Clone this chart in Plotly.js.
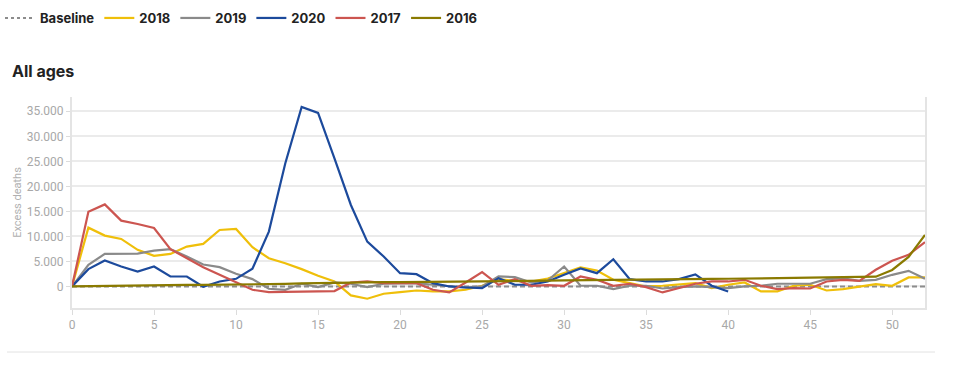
<!DOCTYPE html>
<html>
<head>
<meta charset="utf-8">
<script src="https://cdn.plot.ly/plotly-3.0.1.min.js"></script>
<style>
html,body{margin:0;padding:0;background:#fff;}
#chart{width:953px;height:380px;}
</style>
</head>
<body>
<div id="chart"></div>
<script>
// Week numbers
const weeks = [];
for (let w = 0; w <= 52; w++) weeks.push(w);

// Excess deaths per week
const baseline = weeks.map(() => 0);

const y2018 = [0, 11750, 10160, 9500, 7310, 6120, 6510, 7970, 8510, 11290, 11490,
  7830, 5650, 4650, 3460, 2130, 1000, -1790, -2450, -1450, -1120,
  -800, -990, -990, -660, 140, 1470, 1130, 1000, 1600, 2660,
  3790, 3190, 1330, 670, 0, 140, 470, 670, -330, 340,
  800, -990, -990, 140, 340, -800, -530, 0, 470, 140,
  1800, 1800];

const y2019 = [0, 4320, 6510, 6510, 6580, 7170, 7450, 5980, 4380, 3860, 2530,
  1470, -460, -660, 540, -130, 800, 540, -130, 540, 670,
  670, 340, 0, -200, 0, 2000, 1870, 800, 1200, 3990,
  140, 140, -530, 140, 140, -400, -130, 0, -130, -330,
  0, 140, 540, 540, 540, 1470, 1600, 1130, 1330, 2330,
  3130, 1530];

const y2020 = [0, 3460, 5180, 3980, 2990, 3980, 1990, 1990, -60, 1000, 1530,
  3530, 10960, 24580, 35860, 34660, 25580, 16280, 8960, 5980, 2660,
  2460, 670, 0, -200, -330, 1670, 340, 340, 1000, 2330,
  3590, 2660, 5450, 1470, 1000, 1000, 1470, 2400, 140, -990];

const y2017 = [0, 14940, 16400, 13150, 12490, 11690, 7450, 5720, 3860, 2330, 800,
  -660, -1120, -1050, -1120, -990, -920, 800, 1000, 670, 670,
  670, -660, -1190, 800, 2870, 340, 1470, 140, 280, 140,
  2000, 1330, 140, 540, -130, -1190, -330, 540, 1000, 1000,
  1330, 140, -530, -330, -400, 1000, 1330, 1130, 3330, 5120,
  6320, 8840];

const y2016 = [0, 60, 110, 150, 190, 230, 270, 300, 320, 330, 350,
  400, 450, 520, 600, 680, 730, 780, 820, 850, 870,
  890, 900, 910, 920, 950, 1000, 1050, 1100, 1150, 1200,
  1250, 1300, 1350, 1400, 1450, 1480, 1500, 1520, 1530, 1540,
  1560, 1600, 1650, 1700, 1750, 1800, 1850, 1900, 1950, 3300,
  5900, 10300];

const seriesNames = ['2018', '2019', '2020', '2017', '2016'];
const seriesValues = [y2018, y2019, y2020, y2017, y2016];
const seriesColors = ['#efbf0a', '#8a8a8a', '#1c4a9c', '#cc5550', '#8a7a00'];

const xTicks = [0, 5, 10, 15, 20, 25, 30, 35, 40, 45, 50];
const yTicks = [0, 5000, 10000, 15000, 20000, 25000, 30000, 35000];

const traces = [];
// baseline drawn dashed, legend entry dotted
traces.push({
  x: weeks, y: baseline, type: 'scatter', mode: 'lines', name: 'Baseline',
  showlegend: false, hoverinfo: 'skip',
  line: {color: '#8c8c8c', width: 2, dash: '5px,3px'}
});
traces.push({
  x: [null], y: [null], type: 'scatter', mode: 'lines', name: 'Baseline',
  line: {color: '#8c8c8c', width: 2, dash: 'dot'}
});
seriesNames.forEach((n, i) => {
  traces.push({
    x: weeks.slice(0, seriesValues[i].length), y: seriesValues[i],
    type: 'scatter', mode: 'lines', name: n,
    line: {color: seriesColors[i], width: 2.2}
  });
});

const W = 953, H = 380;
const mL = 72, mR = 28, mT = 97, mB = 72;
const pw = W - mL - mR, ph = H - mT - mB;

const layout = {
  width: W, height: H,
  margin: {l: mL, r: mR, t: mT, b: mB, pad: 0, autoexpand: false},
  paper_bgcolor: '#ffffff', plot_bgcolor: '#ffffff',
  showlegend: true,
  legend: {
    orientation: 'h', xref: 'container', yref: 'container',
    x: -4 / W, xanchor: 'left',
    y: 1 - 3 / H, yanchor: 'top',
    font: {family: 'Inter, Lato, sans-serif', size: 13, color: '#222', weight: 700},
    itemwidth: 30, tracegroupgap: 0, bgcolor: 'rgba(0,0,0,0)'
  },
  title: {
    text: 'All ages', xref: 'container', yref: 'container',
    x: 12 / W, xanchor: 'left', y: 1 - 71 / H, yanchor: 'middle',
    font: {family: 'Inter, Lato, sans-serif', size: 16, color: '#222', weight: 700}
  },
  separators: ',.',
  xaxis: {
    range: [0, 52], tickvals: xTicks, ticktext: xTicks.map(String),
    showgrid: false, zeroline: false,
    showline: true, linecolor: '#e4e4e4', linewidth: 2,
    ticks: 'outside', ticklen: 5, tickcolor: '#dcdcdc', tickwidth: 1,
    tickfont: {family: 'Roboto, sans-serif', size: 12, color: '#a8a8a8'},
    automargin: false,
    fixedrange: true
  },
  yaxis: {
    range: [-4300, 37850], tickvals: yTicks,
    tickformat: ',d',
    showgrid: true, gridcolor: '#ebebeb', gridwidth: 2,
    zeroline: false,
    showline: true, mirror: true, linecolor: '#e4e4e4', linewidth: 2,
    ticks: 'outside', ticklen: 4, tickcolor: '#dcdcdc', tickwidth: 1,
    tickfont: {family: 'Roboto, sans-serif', size: 12, color: '#a8a8a8'},
    title: {text: 'Excess deaths', standoff: 3,
      font: {family: 'Roboto, sans-serif', size: 11, color: '#b0b0b0'}},
    automargin: false,
    fixedrange: true
  },
  shapes: [{
    type: 'line', xref: 'paper', yref: 'paper',
    x0: (7 - mL) / pw, x1: (935 - mL) / pw,
    y0: -(352 - (H - mB)) / ph, y1: -(352 - (H - mB)) / ph,
    line: {color: '#e2e2e2', width: 1}
  }]
};

Plotly.newPlot('chart', traces, layout, {displayModeBar: false, staticPlot: true});
</script>
</body>
</html>
